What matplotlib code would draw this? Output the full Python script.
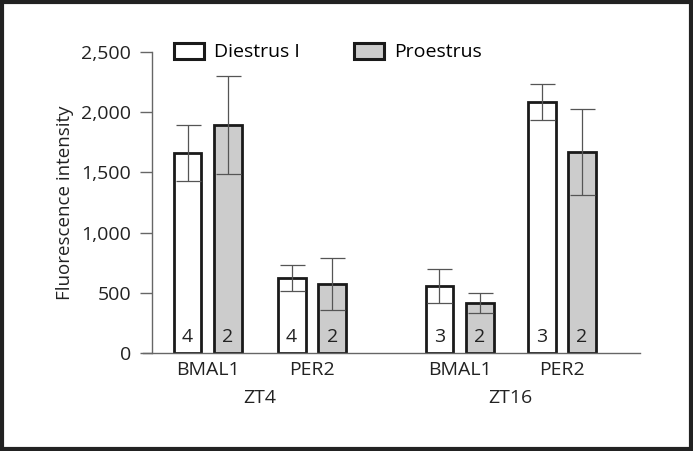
import numpy as np
import matplotlib.pyplot as plt
from matplotlib.patches import Patch, Rectangle

plt.rcParams['font.family'] = ['Open Sans', 'DejaVu Sans']

genes = ['BMAL1', 'PER2', 'BMAL1', 'PER2']
groups = ['ZT4', 'ZT16']
series = ['Diestrus I', 'Proestrus']
diestrus = [1660, 623, 556, 2085]
diestrus_err = [235, 112, 142, 150]
proestrus = [1894, 573, 415, 1670]
proestrus_err = [405, 212, 83, 357]
n_diestrus = [4, 4, 3, 3]
n_proestrus = [2, 2, 2, 2]

pos = np.array([0, 2.57, 6.22, 8.74])
w = 0.69
off = 0.5
fs = 14

fig = plt.figure(figsize=(6.93, 4.51), dpi=100)
ax = fig.add_axes([0.2063, 0.2173, 0.7172, 0.6674])

ekw = dict(ecolor='#555555', elinewidth=0.9, capsize=9, capthick=0.9)
b1 = ax.bar(pos - off, diestrus, w, color='white', edgecolor='#1a1a1a', linewidth=2,
            yerr=diestrus_err, error_kw=ekw, zorder=2)
b2 = ax.bar(pos + off, proestrus, w, color='#cccccc', edgecolor='#1a1a1a', linewidth=2,
            yerr=proestrus_err, error_kw=ekw, zorder=2)

for x, n in zip(pos - off, n_diestrus):
    ax.text(x, 55, str(n), ha='center', va='bottom', fontsize=fs, color='#222222')
for x, n in zip(pos + off, n_proestrus):
    ax.text(x, 55, str(n), ha='center', va='bottom', fontsize=fs, color='#222222')

ax.set_xlim(-1.6, 10.67)
ax.set_ylim(0, 2500)
ax.set_yticks([0, 500, 1000, 1500, 2000, 2500])
ax.set_yticklabels(['0', '500', '1,000', '1,500', '2,000', '2,500'])
ax.set_xticks(pos)
ax.set_xticklabels(genes)
ax.tick_params(axis='y', length=9, width=1, color='#666666', labelsize=fs, pad=6, labelcolor='#222222')
ax.tick_params(axis='x', length=0, labelsize=fs, pad=6, labelcolor='#222222')

for s in ['top', 'right']:
    ax.spines[s].set_visible(False)
ax.spines['left'].set_position(('data', -1.38))
ax.spines['left'].set_color('#666666')
ax.spines['bottom'].set_color('#666666')
ax.spines['left'].set_linewidth(1)
ax.spines['bottom'].set_linewidth(1)

ax.set_ylabel('Fluorescence intensity', fontsize=13.5, color='#222222', labelpad=5)

for g, x in zip(groups, [(pos[0] + pos[1]) / 2, (pos[2] + pos[3]) / 2]):
    ax.text(x, -0.15, g, transform=ax.get_xaxis_transform(), ha='center', va='center',
            fontsize=fs, color='#222222')

handles = [Patch(facecolor='white', edgecolor='#1a1a1a', linewidth=2.2),
           Patch(facecolor='#cccccc', edgecolor='#1a1a1a', linewidth=2.2)]
ax.legend(handles, series, ncol=2, frameon=False, fontsize=fs, loc='center left',
          bbox_to_anchor=(0.062, 1.0), handlelength=1.55, handleheight=0.88,
          handletextpad=0.5, columnspacing=2.8, borderaxespad=0, borderpad=0)

fig.patches.append(Rectangle((0.003, 0.005), 0.994, 0.99, transform=fig.transFigure,
                             fill=False, edgecolor='#222222', linewidth=3))

plt.savefig('out.png', dpi=100)
